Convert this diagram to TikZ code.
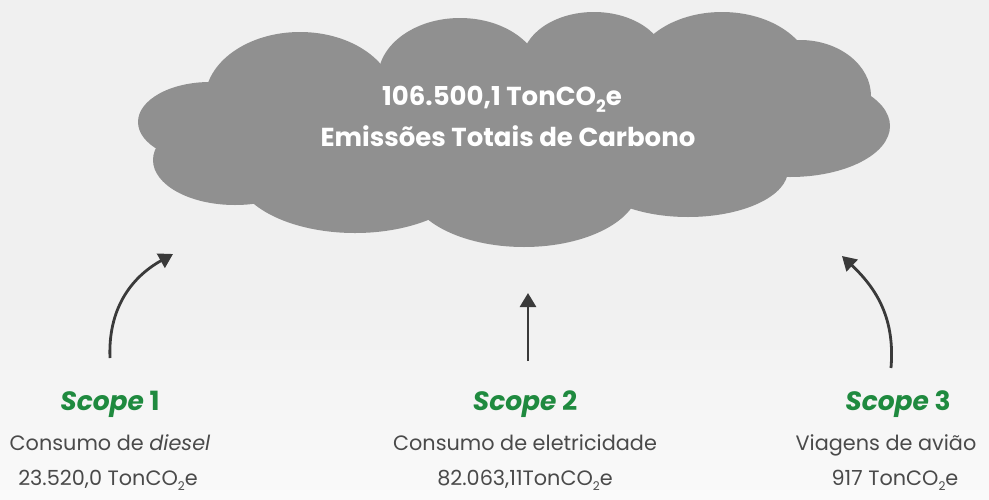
\documentclass[tikz,border=0pt]{standalone}
\usepackage{fontspec}
\setmainfont{Poppins}
\usetikzlibrary{arrows.meta}
\definecolor{bgtop}{HTML}{F0F0F0}
\definecolor{bgbot}{HTML}{FAFAFA}
\definecolor{cloudgray}{HTML}{909090}
\definecolor{scopegreen}{HTML}{1F8A3F}
\definecolor{txtgray}{HTML}{4A4A4A}
\definecolor{arrowdark}{HTML}{3A3A3A}
\newcommand{\subtwo}[1]{\raisebox{-0.28em}{\fontsize{#1}{#1}\selectfont 2}}
\tikzset{
  cloudpart/.style={fill=cloudgray, draw=none},
  titletext/.style={text=white, font=\fontsize{26}{29}\selectfont\bfseries, anchor=base, inner sep=0pt},
  scopetext/.style={text=scopegreen, font=\fontsize{26.5}{29}\selectfont\bfseries, anchor=base, inner sep=0pt},
  bodytext/.style={text=txtgray, font=\fontsize{20.8}{23}\selectfont, anchor=base, inner sep=0pt},
  flowarrow/.style={draw=arrowdark, line width=2.8pt, -{Triangle[length=14pt,width=16pt]}}
}
\begin{document}
\begin{tikzpicture}[x=1pt,y=-1pt]
  % background
  \fill[bgtop] (0,0) rectangle (989,300);
  \shade[top color=bgtop, bottom color=bgbot, draw=none] (0,299.5) rectangle (989,499);
  \useasboundingbox (0,0) rectangle (989,499);
  % cloud as union of ellipses
  \fill[cloudpart] (300,100) ellipse [x radius=95, y radius=68];
  \fill[cloudpart] (460,78) ellipse [x radius=82, y radius=60];
  \fill[cloudpart] (594,62) ellipse [x radius=72, y radius=50];
  \fill[cloudpart] (722,75) ellipse [x radius=90, y radius=63];
  \fill[cloudpart] (800,96) ellipse [x radius=71, y radius=56];
  \fill[cloudpart] (790,126) ellipse [x radius=100, y radius=51];
  \fill[cloudpart] (688,170) ellipse [x radius=100, y radius=47];
  \fill[cloudpart] (524,186) ellipse [x radius=115, y radius=61];
  \fill[cloudpart] (355,170) ellipse [x radius=120, y radius=63];
  \fill[cloudpart] (235,160) ellipse [x radius=82, y radius=45];
  \fill[cloudpart] (210,122) ellipse [x radius=72, y radius=40];
  \fill[cloudpart] (230,80) rectangle (780,185);
  % cloud text
  \node[titletext] (total) at (502,105) {106.500,1 TonCO\subtwo{17}e};
  \node[titletext] (totallabel) at (508,146) {Emissões Totais de Carbono};
  % scope 1
  \node[scopetext] (s1) at (110,410) {\itshape Scope\upshape\ 1};
  \node[bodytext] (s1a) at (110,450) {Consumo de \textit{diesel}};
  \node[bodytext] (s1b) at (108,485) {23.520,0 TonCO\subtwo{12}e};
  % scope 2
  \node[scopetext] (s2) at (525,410) {\itshape Scope\upshape\ 2};
  \node[bodytext] (s2a) at (525,450) {Consumo de eletricidade};
  \node[bodytext] (s2b) at (525,485) {82.063,11TonCO\subtwo{12}e};
  % scope 3
  \node[scopetext] (s3) at (898,410) {\itshape Scope\upshape\ 3};
  \node[bodytext] (s3a) at (886,450) {Viagens de avião};
  \node[bodytext] (s3b) at (895,485) {917 TonCO\subtwo{12}e};
  % arrows
  \coordinate (a1s) at (110,358);
  \coordinate (a1e) at (173,254);
  \coordinate (a2s) at (528,361);
  \coordinate (a2e) at (528,293);
  \coordinate (a3s) at (891,368);
  \coordinate (a3e) at (842,256);
  \draw[flowarrow] (a1s) .. controls (108,310) and (130,278) .. (a1e);
  \draw[flowarrow] (a2s) -- (a2e);
  \draw[flowarrow] (a3s) .. controls (895,320) and (878,290) .. (a3e);
\end{tikzpicture}
\end{document}
